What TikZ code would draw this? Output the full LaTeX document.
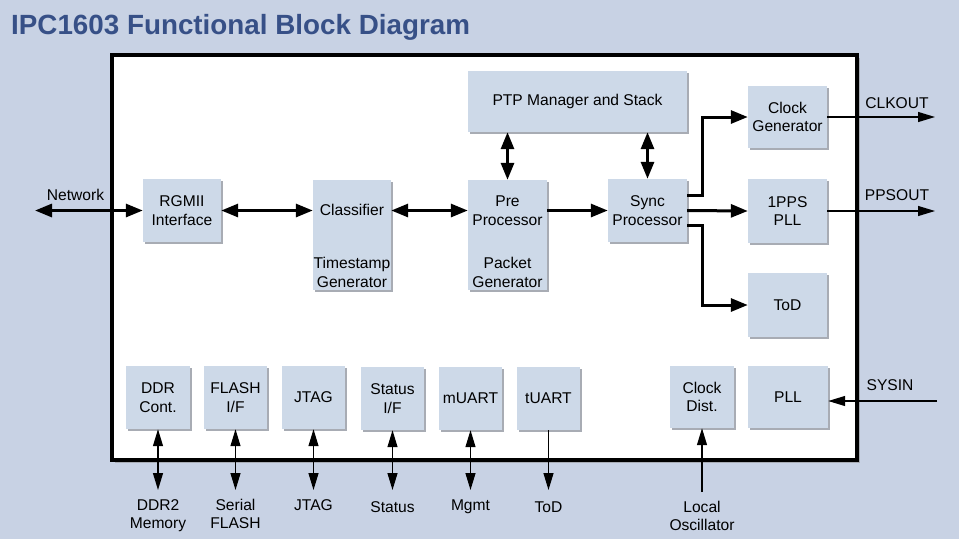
\documentclass[tikz,border=0pt]{standalone}
\usepackage{fontspec}
\setmainfont{Liberation Sans}
\usetikzlibrary{arrows.meta,shadows}
\definecolor{ipcback}{RGB}{200,210,228}
\definecolor{ipcbox}{RGB}{205,217,232}
\definecolor{ipcshade}{RGB}{168,172,180}
\definecolor{ipctitle}{RGB}{55,80,135}
\tikzset{
  blk/.style={fill=ipcbox, inner sep=0pt, align=center,
    font=\fontsize{15.6}{18.5}\selectfont,
    general shadow={fill=ipcshade, shadow xshift=2pt, shadow yshift=-2pt}},
  iobox/.style={blk, minimum width=63pt, minimum height=63pt},
  outbox/.style={blk, minimum width=79pt, minimum height=63pt},
  txt/.style={inner sep=0pt, align=center, font=\fontsize{15.6}{18.5}\selectfont},
  chip/.style={draw, line width=4pt, fill=white,
    general shadow={fill=ipcshade, shadow xshift=3pt, shadow yshift=-3pt}},
  bus/.style={line width=3pt, -{Triangle[length=17pt,width=13pt]}},
  busboth/.style={line width=3pt,
    {Triangle[length=17pt,width=13pt]}-{Triangle[length=17pt,width=13pt]}},
  pin/.style={line width=1.2pt, -{Triangle[length=17pt,width=10pt]}},
  pinboth/.style={line width=1.2pt,
    {Triangle[length=17pt,width=10pt]}-{Triangle[length=17pt,width=10pt]}},
}
\begin{document}
\begin{tikzpicture}[x=1pt, y=-1pt]
  \useasboundingbox (0,0) rectangle (959,539);
  \fill[ipcback] (0,0) rectangle (959,539);

  \node[anchor=base west, inner sep=0pt, text=ipctitle,
    font=\bfseries\fontsize{27.8}{32}\selectfont] (title) at (11,34)
    {IPC1603 Functional Block Diagram};

  % chip outline
  \node[chip, minimum width=745pt, minimum height=405pt] (chip) at (484.5,257.5) {};

  % data path
  \node[blk, minimum width=78pt, minimum height=63pt] (rgmii) at (182,210.5) {RGMII\\Interface};
  \node[blk, minimum width=78pt, minimum height=110pt] (cls) at (352,235) {};
  \node[txt] (clsTop) at (352,210) {Classifier};
  \node[txt] (clsBot) at (352,272.5) {Timestamp\\Generator};
  \node[blk, minimum width=79pt, minimum height=110pt] (pre) at (507.5,235) {};
  \node[txt] (preTop) at (507.5,210.5) {Pre\\Processor};
  \node[txt] (preBot) at (507.5,272.5) {Packet\\Generator};
  \node[blk, minimum width=219pt, minimum height=61pt] (ptp) at (577.5,101.5) {PTP Manager and Stack};
  \node[outbox] (sync) at (647.5,210.5) {Sync\\Processor};
  \node[outbox, minimum height=62pt] (clkgen) at (787.5,117) {Clock\\Generator};
  \node[outbox, minimum height=64pt] (pps) at (787.5,211) {1PPS\\PLL};
  \node[outbox, minimum height=64pt] (tod) at (787.5,305) {ToD};

  % peripherals
  \node[iobox, minimum width=64pt] (ddr) at (158,397.5) {DDR\\Cont.};
  \node[iobox] (flash) at (235.5,397.5) {FLASH\\I/F};
  \node[iobox] (jtag) at (313.5,397.5) {JTAG};
  \node[iobox] (status) at (392.5,398.5) {Status\\I/F};
  \node[iobox] (muart) at (470.5,398.5) {mUART};
  \node[iobox] (tuart) at (548.5,398.5) {tUART};
  \node[iobox, minimum width=64pt, minimum height=62pt] (cdist) at (702,397) {Clock\\Dist.};
  \node[iobox, minimum width=80pt, minimum height=62pt] (pll) at (788,397) {PLL};

  % external signals
  \coordinate (netpin) at (35,210.5);
  \coordinate (clkpin) at (935,117);
  \coordinate (ppspin) at (935,211);
  \coordinate (sysinpin) at (937,401);
  \coordinate (tuartpin) at (548.5,490);
  \coordinate (oscpin) at (702,492);
  \node[txt] (netLbl) at (75.5,195) {Network};
  \node[txt] (clkLbl) at (897,103) {CLKOUT};
  \node[txt] (ppsLbl) at (897,195) {PPSOUT};
  \node[txt] (sysinLbl) at (890,385) {SYSIN};

  \draw[busboth] (netpin) -- (rgmii.west);
  \draw[busboth] (rgmii.east) -- (rgmii.east -| cls.west);
  \draw[busboth] (rgmii.east -| cls.east) -- (rgmii.east -| pre.west);
  \draw[bus] (sync.west -| pre.east) -- (sync.west);
  \draw[busboth] (pre.north) -- (pre.north |- ptp.south);
  \draw[busboth] (sync.north) -- (sync.north |- ptp.south);
  \draw[bus] ([yshift=15pt]sync.east) -- ++(15,0) |- (clkgen.west);
  \draw[bus] (sync.east) -- (pps.west);
  \draw[bus] ([yshift=-15pt]sync.east) -- ++(15,0) |- (tod.west);

  \draw[pin] (clkgen.east) -- (clkpin);
  \draw[pin] (pps.east) -- (ppspin);
  \draw[pin] (sysinpin) -- (sysinpin -| pll.east);

  \foreach \b in {ddr,flash,jtag,status,muart} {
    \coordinate (\b pin) at (\b.south |- 0,490);
    \draw[pinboth] (\b.south) -- (\b pin);
  }
  \draw[pin] (tuart.south) -- (tuartpin);
  \draw[pin] (oscpin) -- (cdist.south);

  \node[txt] (ddrLbl) at (158,515.5) {DDR2\\Memory};
  \node[txt] (flashLbl) at (235.5,514) {Serial\\FLASH};
  \node[txt] (jtagLbl) at (313.5,505) {JTAG};
  \node[txt] (statusLbl) at (392.5,507) {Status};
  \node[txt] (mgmtLbl) at (470.5,507) {Mgmt};
  \node[txt] (todLbl) at (548.5,507) {ToD};
  \node[txt] (oscLbl) at (702,516) {Local\\Oscillator};
\end{tikzpicture}
\end{document}
